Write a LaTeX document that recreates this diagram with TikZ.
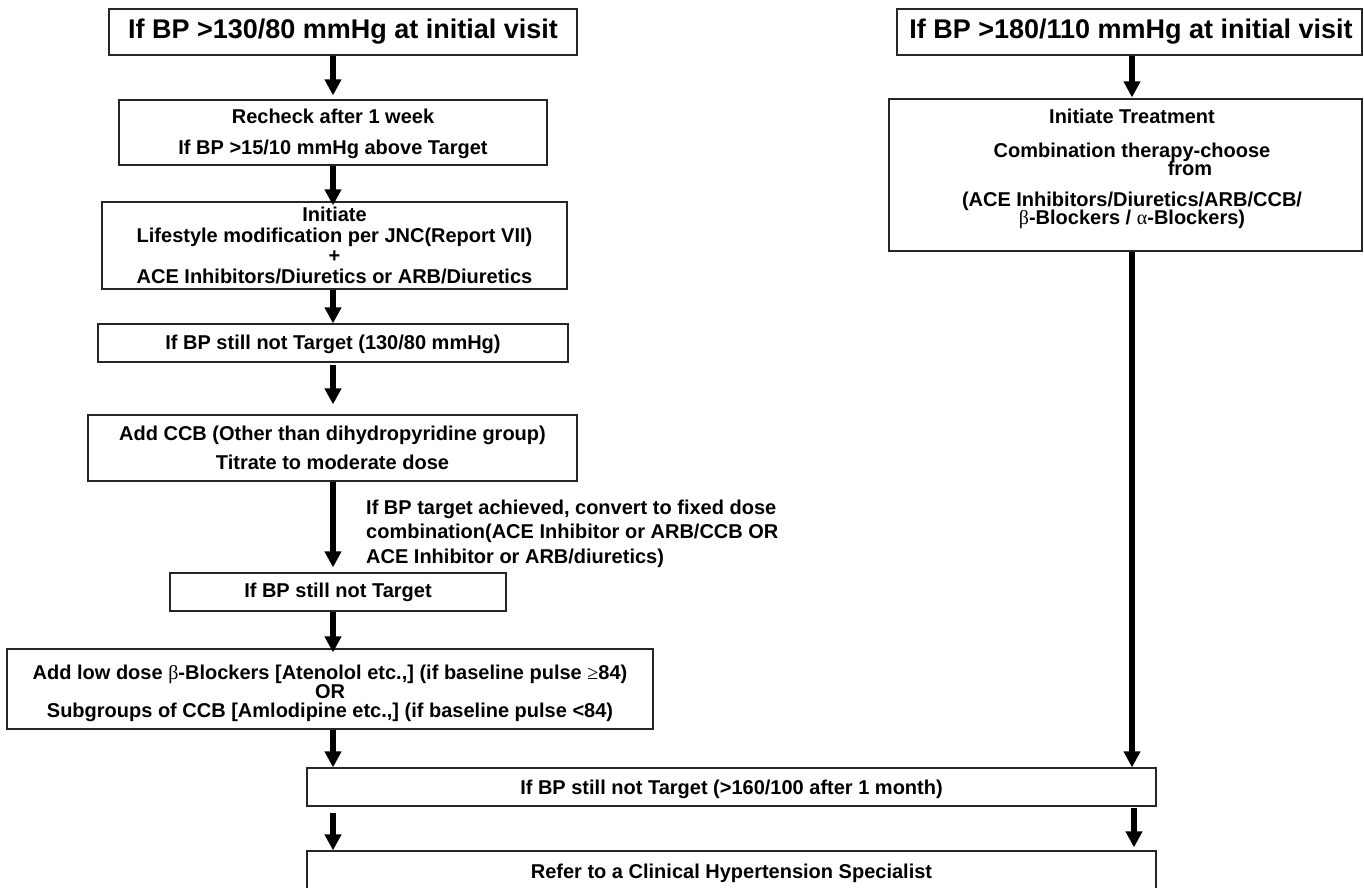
\documentclass[tikz,border=0pt]{standalone}
\usepackage{fontspec}
\setmainfont{Liberation Sans}
\newfontfamily\symf{Liberation Serif}
\usetikzlibrary{arrows.meta}
\begin{document}
\begin{tikzpicture}[x=1pt,y=-1pt,
  box/.style={draw=black!85, line width=1.2pt, fill=white, inner sep=0pt, align=center,
    font=\bfseries\fontsize{20}{20.5}\selectfont},
  titlebox/.style={box, font=\bfseries\fontsize{27}{27}\selectfont},
  txt/.style={inner sep=0pt, font=\bfseries\fontsize{20}{20}\selectfont},
  arr/.style={line width=6.5pt, -{Triangle[length=16pt,width=16pt]}}]
\useasboundingbox (0,0) rectangle (1364,887);
\fill[white] (0,0) rectangle (1364,887);
\clip (0,0) rectangle (1364,887);
% column coordinates
\coordinate (cl) at (333,0);
\coordinate (cr) at (1132,0);
\coordinate (cr2) at (1134,0);
% left column
\node[titlebox, minimum width=468pt, minimum height=46pt] (A) at (343,32) {If BP >130/80 mmHg at initial visit};
\node[box, minimum width=428pt, minimum height=65pt] (B) at (333,132.5) {\rule{0pt}{17pt}Recheck after 1 week\\[10.5pt]If BP >15/10 mmHg above Target};
\node[box, minimum width=465pt, minimum height=87pt] (C) at (334.5,245.5) {Initiate\\Lifestyle modification per JNC(Report VII)\\+\\ACE Inhibitors/Diuretics or ARB/Diuretics};
\node[box, minimum width=470pt, minimum height=38pt] (D) at (333,343) {\rule{0pt}{17pt}If BP still not Target (130/80 mmHg)};
\node[box, minimum width=489pt, minimum height=66pt] (E) at (332.5,448) {Add CCB (Other than dihydropyridine group)\\[8.5pt]Titrate to moderate dose};
\node[box, minimum width=336pt, minimum height=38pt] (F) at (338,592) {If BP still not Target};
\node[box, minimum width=646pt, minimum height=80pt, font=\bfseries\fontsize{20}{19}\selectfont] (G) at (330,689)
  {\rule{0pt}{22.6pt}Add low dose {\symf\mdseries β}-Blockers [Atenolol etc.,] (if baseline pulse {\symf\mdseries ≥}84)\\OR\\Subgroups of CCB [Amlodipine etc.,] (if baseline pulse <84)};
\node[box, minimum width=849pt, minimum height=38pt] (H) at (731.5,787) {\rule{0pt}{19pt}If BP still not Target (>160/100 after 1 month)};
\node[box, minimum width=849pt, minimum height=42pt] (I) at (731.5,872) {\rule{0pt}{18pt}Refer to a Clinical Hypertension Specialist};
\node[txt, align=left, anchor=west, font=\bfseries\fontsize{20}{24.5}\selectfont] (lbl) at (366,533.5)
  {If BP target achieved, convert to fixed dose\\combination(ACE Inhibitor or ARB/CCB OR\\ACE Inhibitor or ARB/diuretics)};
% right column
\node[titlebox, minimum width=465pt, minimum height=46pt] (A2) at (1129.5,32) {\hspace*{3pt}If BP >180/110 mmHg at initial visit};
\node[box, minimum width=473pt, minimum height=152pt] (B2) at (1125.5,175) {};
\node[txt, align=center] (B2t) at (1132,169)
  {Initiate Treatment\\[14pt]Combination therapy-choose\\[-2.5pt]\hspace*{116pt}from\\[11pt](ACE Inhibitors/Diuretics/ARB/CCB/\\[-2pt]{\symf\mdseries β}-Blockers / {\symf\mdseries α}-Blockers)};
% arrows
\draw[arr, shorten >=4pt] (A.south -| cl) -- (B.north -| cl);
\draw[arr, shorten >=-4pt] (B.south -| cl) -- (C.north -| cl);
\draw[arr] (C.south -| cl) -- (D.north -| cl);
\draw[arr, shorten <=2pt, shorten >=10pt] (D.south -| cl) -- (E.north -| cl);
\draw[arr, shorten >=5pt] (E.south -| cl) -- (F.north -| cl);
\draw[arr, shorten >=-4pt] (F.south -| cl) -- (G.north -| cl);
\draw[arr] (G.south -| cl) -- (H.north -| cl);
\draw[arr, shorten <=6pt] (H.south -| cl) -- (I.north -| cl);
\draw[arr, shorten >=1pt] (A2.south -| cr) -- (B2.north -| cr);
\draw[arr] (B2.south -| cr) -- (H.north -| cr);
\draw[arr, shorten <=1pt, shorten >=3pt] (H.south -| cr2) -- (I.north -| cr2);
\end{tikzpicture}
\end{document}
